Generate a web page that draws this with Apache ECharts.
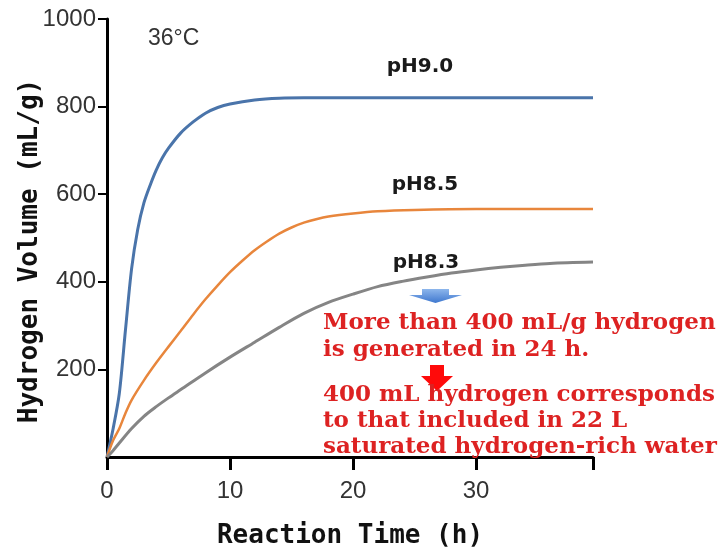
<!DOCTYPE html>
<html>
<head>
<meta charset="utf-8">
<script src="https://cdn.jsdelivr.net/npm/echarts@6/dist/echarts.min.js"></script>
<style>
  html, body { margin: 0; padding: 0; background: #fff; }
  #chart { width: 727px; height: 552px; }
</style>
</head>
<body>
<div id="chart"></div>
<script>
// values (hours, mL/g)
var timePH90 = [0, 0.5, 1, 1.5, 2, 2.5, 3, 3.5, 4, 4.5, 5, 6, 7, 8, 9, 10, 12, 14, 16, 20, 30, 39.5];
var volPH90  = [0, 65, 145, 290, 430, 520, 580, 620, 655, 683, 705, 740, 765, 785, 798, 806, 815, 819, 820, 820, 820, 820];

var timePH85 = [0, 0.5, 1, 1.5, 2, 3, 4, 5, 6, 7, 8, 9, 10, 11, 12, 13, 14, 15, 16, 17, 18, 20, 22, 25, 30, 35, 39.5];
var volPH85  = [0, 38, 65, 100, 130, 175, 215, 252, 288, 325, 360, 392, 422, 448, 472, 492, 510, 524, 535, 543, 549, 556, 561, 564, 566, 566, 566];

var timePH83 = [0, 0.5, 1, 2, 3, 4, 5, 6, 8, 10, 12, 14, 16, 18, 20, 22, 24, 26, 28, 30, 32, 34, 36, 39.5];
var volPH83  = [0, 15, 32, 65, 93, 115, 135, 154, 192, 228, 262, 296, 328, 353, 372, 389, 401, 411, 420, 427, 433, 438, 442, 445];

var seriesNames = ['pH9.0', 'pH8.5', 'pH8.3'];
var seriesColors = ['#4a74aa', '#e8863c', '#858585'];

var xTickLabels = ['0', '10', '20', '30'];
var yTickLabels = ['200', '400', '600', '800', '1000'];

var noteLines = [
  'More than 400 mL/g hydrogen',
  'is generated in 24 h.',
  '400 mL hydrogen corresponds',
  'to that included in 22 L',
  'saturated hydrogen-rich water'
];

function zip(xs, ys) {
  var out = [];
  for (var i = 0; i < xs.length; i++) out.push([xs[i], ys[i]]);
  return out;
}

var chart = echarts.init(document.getElementById('chart'));

var axisFont = { color: '#333', fontSize: 24, fontFamily: 'Liberation Sans' };

var noteY = [323, 350, 395, 421, 447];
var graphics = [
  { type: 'text', x: 148, y: 39,
    style: { text: '36\u00b0C', fill: '#333', font: '23px "Liberation Sans"', textVerticalAlign: 'middle' } },
  { type: 'text', x: 420, y: 67,
    style: { text: seriesNames[0], fill: '#1a1a1a', font: 'bold 20px "DejaVu Sans"', textAlign: 'center', textVerticalAlign: 'middle' } },
  { type: 'text', x: 425, y: 185,
    style: { text: seriesNames[1], fill: '#1a1a1a', font: 'bold 20px "DejaVu Sans"', textAlign: 'center', textVerticalAlign: 'middle' } },
  { type: 'text', x: 426, y: 263,
    style: { text: seriesNames[2], fill: '#1a1a1a', font: 'bold 20px "DejaVu Sans"', textAlign: 'center', textVerticalAlign: 'middle' } },
  // blue arrow under pH8.3
  { type: 'polygon', z: 10,
    shape: { points: [[422, 289], [449, 289], [449, 295], [462, 295], [435.5, 303], [409, 295], [422, 295]] },
    style: { fill: new echarts.graphic.LinearGradient(0, 0, 0, 1, [{ offset: 0, color: '#8db6ec' }, { offset: 1, color: '#3f78cf' }]) } },
  // red arrow between notes
  { type: 'polygon', z: 10,
    shape: { points: [[430, 365], [444, 365], [444, 376], [453, 376], [437, 391], [421, 376], [430, 376]] },
    style: { fill: '#ff0a0a' } }
];
for (var i = 0; i < noteLines.length; i++) {
  graphics.push({
    type: 'text', x: 323, y: noteY[i], z: 20,
    style: { text: noteLines[i], fill: '#dd2222', font: 'bold 23px "DejaVu Serif"', textVerticalAlign: 'middle' }
  });
}

var option = {
  animation: false,
  backgroundColor: '#fff',
  grid: { left: 107, right: 134, top: 19, bottom: 95, containLabel: false, outerBoundsMode: 'none' },
  xAxis: {
    type: 'value',
    min: 0, max: 39.5, interval: 10,
    name: 'Reaction Time (h)',
    nameLocation: 'middle',
    nameGap: 66,
    nameMoveOverlap: false,
    nameTextStyle: { color: '#111', fontSize: 26, fontWeight: 'bold', fontFamily: 'DejaVu Sans Mono' },
    axisLine: { lineStyle: { color: '#000', width: 3 } },
    axisTick: { show: true, length: 13, lineStyle: { color: '#000', width: 3 } },
    axisLabel: Object.assign({
      margin: 22,
      formatter: function (v) { return xTickLabels.indexOf(String(v)) >= 0 ? String(v) : ''; }
    }, axisFont),
    splitLine: { show: false }
  },
  yAxis: {
    type: 'value',
    min: 0, max: 1000, interval: 200,
    name: 'Hydrogen Volume (mL/g)',
    nameLocation: 'middle',
    nameGap: 64,
    nameMoveOverlap: false,
    nameTextStyle: { color: '#111', fontSize: 26, fontWeight: 'bold', fontFamily: 'DejaVu Sans Mono', padding: [0, 26, 0, 0] },
    axisLine: { show: true, lineStyle: { color: '#000', width: 3 } },
    axisTick: { show: true, length: 9, lineStyle: { color: '#000', width: 2 } },
    axisLabel: Object.assign({
      margin: 11,
      showMinLabel: false,
      formatter: function (v) { return yTickLabels.indexOf(String(v)) >= 0 ? String(v) : ''; }
    }, axisFont),
    splitLine: { show: false }
  },
  series: [
    { name: seriesNames[0], type: 'line', data: zip(timePH90, volPH90), smooth: 0.3,
      symbol: 'none', lineStyle: { color: seriesColors[0], width: 3 } },
    { name: seriesNames[1], type: 'line', data: zip(timePH85, volPH85), smooth: 0.3,
      symbol: 'none', lineStyle: { color: seriesColors[1], width: 2.5 } },
    { name: seriesNames[2], type: 'line', data: zip(timePH83, volPH83), smooth: 0.3,
      symbol: 'none', lineStyle: { color: seriesColors[2], width: 3 } }
  ],
  graphic: graphics
};

chart.setOption(option);
</script>
</body>
</html>
